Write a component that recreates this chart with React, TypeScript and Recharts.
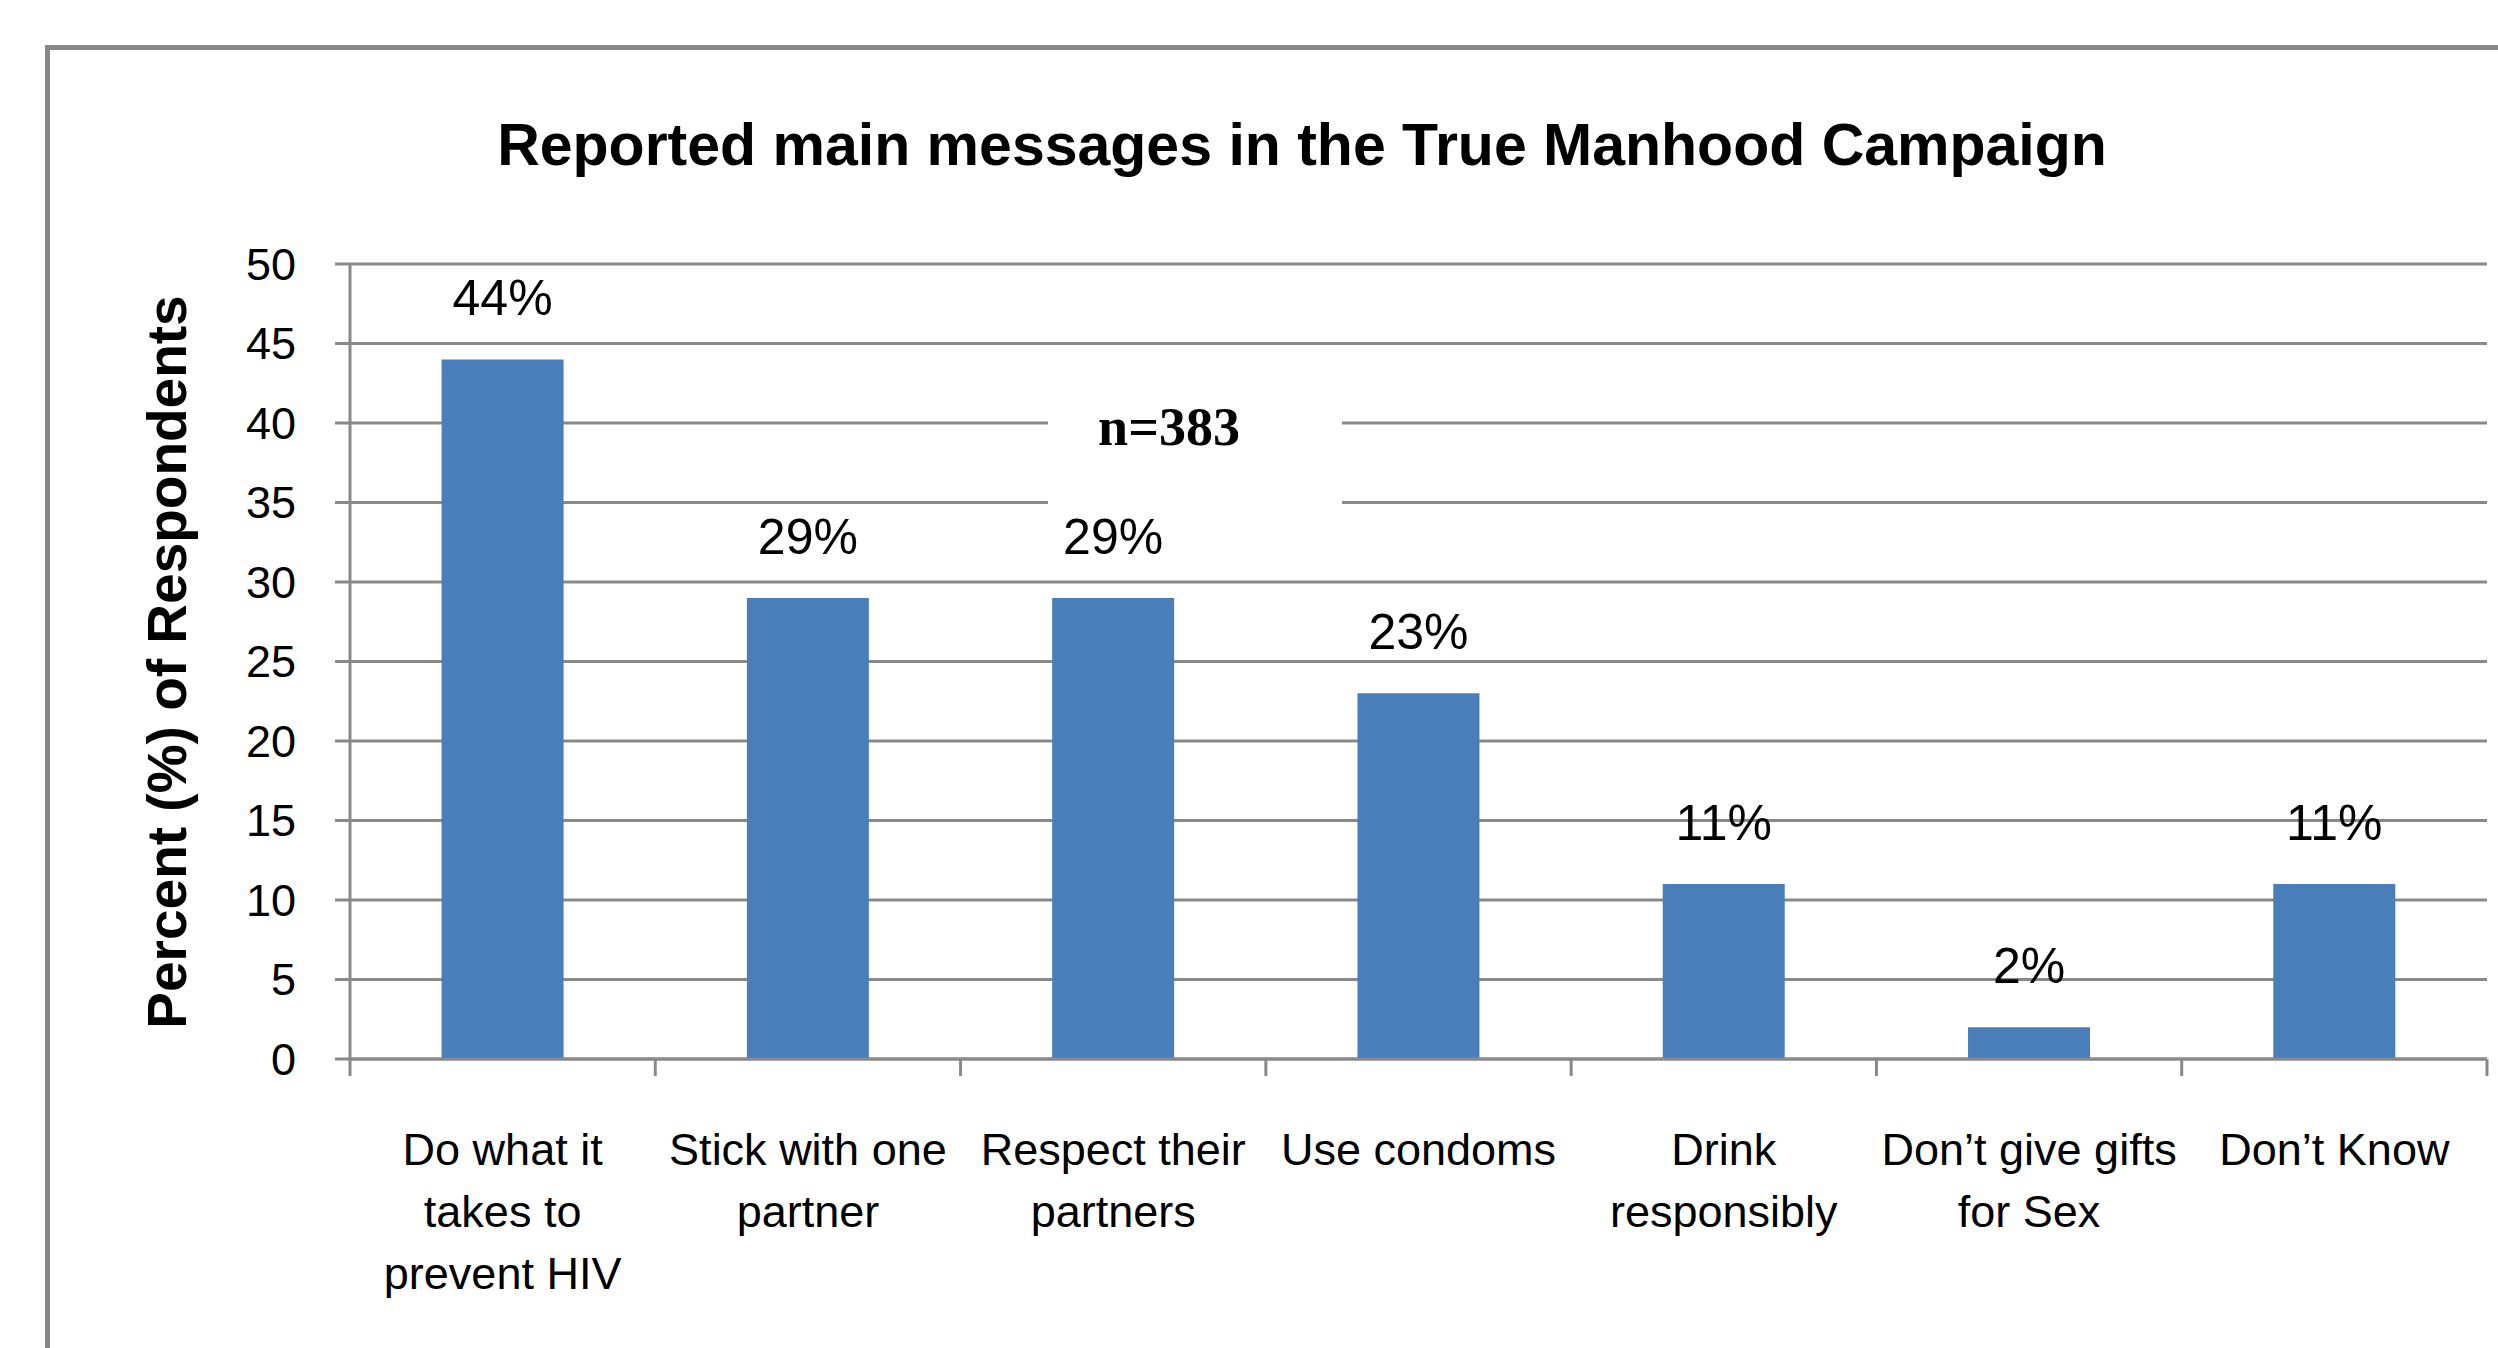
import React from 'react';
import { BarChart, Bar, XAxis, YAxis, CartesianGrid, LabelList } from 'recharts';

const categories = [
  'Do what it takes to prevent HIV',
  'Stick with one partner',
  'Respect their partners',
  'Use condoms',
  'Drink responsibly',
  'Don’t give gifts for Sex',
  'Don’t Know',
];
const categoryLines = [
  ['Do what it', 'takes to', 'prevent HIV'],
  ['Stick with one', 'partner'],
  ['Respect their', 'partners'],
  ['Use condoms'],
  ['Drink', 'responsibly'],
  ['Don’t give gifts', 'for Sex'],
  ['Don’t Know'],
];
const percents = [44, 29, 29, 23, 11, 2, 11];
const yTicks = [0, 5, 10, 15, 20, 25, 30, 35, 40, 45, 50];

const data = categories.map((category, i) => ({ category, value: percents[i] }));

const W = 2498;
const H = 1348;
const FONT = '"Liberation Sans", Arial, sans-serif';
const GRID = '#898989';
const BAR = '#4A7EBB';

// labels plus Excel-style tick marks between categories
const CategoryTick = (props: any) => {
  const { x, y, payload, index, width } = props;
  const i = categories.indexOf(payload.value);
  const lines = categoryLines[i] || [payload.value];
  const half = Number(width) > 0 ? Number(width) / categories.length / 2 : 0;
  return (
    <g>
      {half > 0 && (
        <line x1={x - half} x2={x - half} y1={y} y2={y + 17} stroke={GRID} strokeWidth={3} />
      )}
      {half > 0 && index === categories.length - 1 && (
        <line x1={x + half} x2={x + half} y1={y} y2={y + 17} stroke={GRID} strokeWidth={3} />
      )}
      <text x={x} y={y} textAnchor="middle" fill="#000" fontSize={45} fontFamily={FONT}>
        {lines.map((line, k) => (
          <tspan key={k} x={x} y={y + 106 + k * 62}>
            {line}
          </tspan>
        ))}
      </text>
    </g>
  );
};

export default function App() {
  return (
    <div style={{ position: 'absolute', left: 0, top: 0, width: W, height: H, background: '#fff' }}>
      <BarChart
        width={W}
        height={H}
        data={data}
        margin={{ top: 264, right: 11, bottom: 288, left: 270 }}
        barCategoryGap="30%"
      >
        <CartesianGrid vertical={false} stroke={GRID} strokeWidth={3} />
        <XAxis
          dataKey="category"
          height={1}
          interval={0}
          tickLine={false}
          tickSize={0}
          tickMargin={0}
          axisLine={{ stroke: GRID, strokeWidth: 3 }}
          tick={<CategoryTick />}
        />
        <YAxis
          width={80}
          domain={[0, 50]}
          ticks={yTicks}
          interval={0}
          tickSize={15}
          tickMargin={39}
          axisLine={{ stroke: GRID, strokeWidth: 3 }}
          tickLine={{ stroke: GRID, strokeWidth: 3 }}
          tick={{ fill: '#000', fontSize: 45, fontFamily: FONT }}
        />
        <Bar dataKey="value" fill={BAR} isAnimationActive={false}>
          <LabelList
            dataKey="value"
            position="top"
            offset={44}
            formatter={(v: any) => `${v}%`}
            fill="#000"
            fontSize={50}
            fontFamily={FONT}
          />
        </Bar>
      </BarChart>
      <svg
        width={W}
        height={H}
        style={{ position: 'absolute', left: 0, top: 0, pointerEvents: 'none' }}
      >
        <path d={`M47.5 ${H} L47.5 47.5 L${W} 47.5`} fill="none" stroke="#878787" strokeWidth={5} />
        <text x={1302} y={165} textAnchor="middle" fontSize={59} fontWeight="bold" fontFamily={FONT} fill="#000">
          Reported main messages in the True Manhood Campaign
        </text>
        <text
          x={186}
          y={662}
          transform="rotate(-90 186 662)"
          textAnchor="middle"
          fontSize={55}
          fontWeight="bold"
          fontFamily={FONT}
          fill="#000"
        >
          Percent (%) of Respondents
        </text>
        <rect x={1048} y={398} width={294} height={110} fill="#fff" />
        <text
          x={1169}
          y={445}
          textAnchor="middle"
          fontSize={54}
          fontWeight="bold"
          fontFamily='"Liberation Serif", "Times New Roman", serif'
          fill="#000"
        >
          n=383
        </text>
      </svg>
    </div>
  );
}
